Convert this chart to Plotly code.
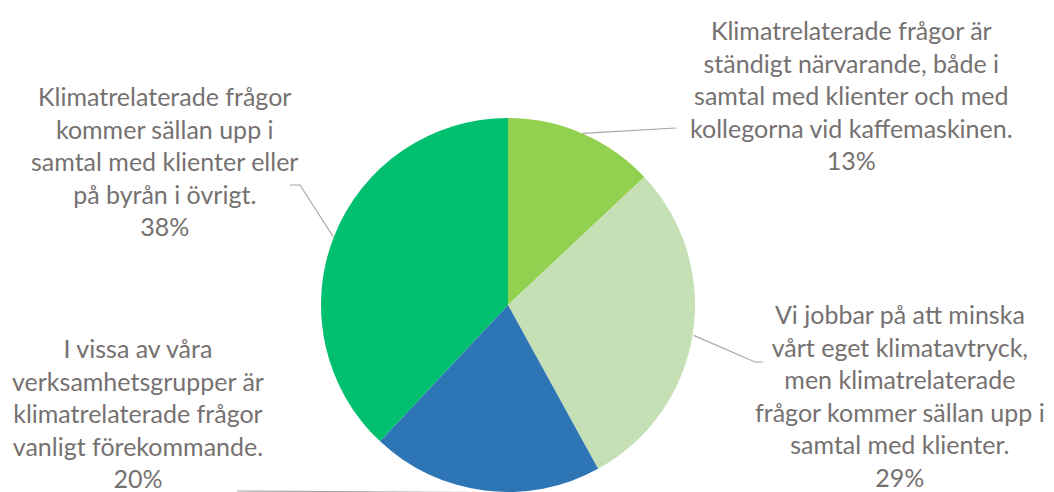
import math
import plotly.graph_objects as go

labels = [
    "Klimatrelaterade frågor är<br>ständigt närvarande, både i<br>samtal med klienter och med<br>kollegorna vid kaffemaskinen.",
    "Vi jobbar på att minska<br>vårt eget klimatavtryck,<br>men klimatrelaterade<br>frågor kommer sällan upp i<br>samtal med klienter.",
    "I vissa av våra<br>verksamhetsgrupper är<br>klimatrelaterade frågor<br>vanligt förekommande.",
    "Klimatrelaterade frågor<br>kommer sällan upp i<br>samtal med klienter eller<br>på byrån i övrigt.",
]
values = [13, 29, 20, 38]
colors = ["#92D050", "#C5E0B4", "#2E75B6", "#00BF6F"]

# page shows the figure shifted by the 8px body margin
OFF = 8
W, H = 1054 - OFF, 492 - OFF
cx, r = 508 - OFF, 188
cy = H - r + 2
dom_x = [(cx - 300) / W, (cx + 300) / W]
dom_y = [max(0, (H - cy - r) / H), (H - cy + r) / H]

# label block centres and leader-line elbows (screen pixels)
label_pos = [(851, 95), (900, 395), (138, 413), (164, 161)]
elbows = [[(676, 128)], [(755, 362), (763, 362)], [(237, 491)], [(300, 185), (290, 185)]]

fig = go.Figure(go.Pie(
    labels=labels, values=values, sort=False, direction="clockwise",
    marker=dict(colors=colors, line=dict(width=0)),
    textinfo="none", domain=dict(x=dom_x, y=dom_y),
    showlegend=False,
))

def px(x, y):
    return (x - OFF) / W, 1 - (y - OFF) / H

total = sum(values)
cum = 0
for i, v in enumerate(values):
    mid = (cum + v / 2) / total * 2 * math.pi
    cum += v
    ex, ey = cx + OFF + r * math.sin(mid), cy + OFF - r * math.cos(mid)
    pts = [px(ex, ey)] + [px(*p) for p in elbows[i]]
    path = "M " + " L ".join(f"{a},{b}" for a, b in pts)
    fig.add_shape(type="path", path=path, xref="paper", yref="paper",
                  line=dict(color="#A6A6A6", width=1.2))
    lx, ly = px(*label_pos[i])
    fig.add_annotation(x=lx, y=ly, xref="paper", yref="paper",
                       text=f"{labels[i]}<br>{v}%", showarrow=False,
                       xanchor="center", yanchor="middle", align="center",
                       font=dict(family="Lato", size=25, color="#767171"))

fig.update_layout(
    width=W, height=H, margin=dict(l=0, r=0, t=0, b=0),
    paper_bgcolor="white", plot_bgcolor="white",
)
fig.write_html("out.html")
